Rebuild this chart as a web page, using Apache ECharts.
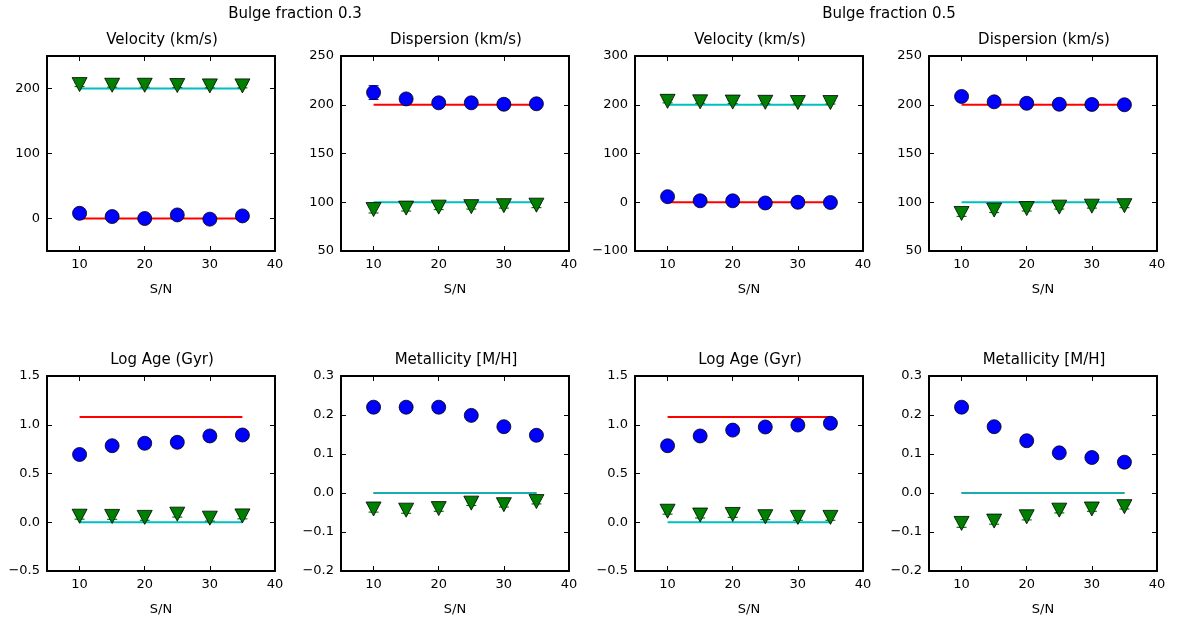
<!DOCTYPE html>
<html>
<head>
<meta charset="utf-8">
<script src="https://cdn.jsdelivr.net/npm/echarts@6/dist/echarts.min.js"></script>
<style>
  html, body { margin: 0; padding: 0; background: #fff; }
  #chart { width: 1178px; height: 620px; }
</style>
</head>
<body>
<div id="chart"></div>
<script>
// S/N values shared by every panel
const sn = [10, 15, 20, 25, 30, 35];
const xTicks = [10, 20, 30, 40];

const suptitles = ['Bulge fraction 0.3', 'Bulge fraction 0.5'];
const panelTitles = ['Velocity (km/s)', 'Dispersion (km/s)', 'Velocity (km/s)', 'Dispersion (km/s)',
  'Log Age (Gyr)', 'Metallicity [M/H]', 'Log Age (Gyr)', 'Metallicity [M/H]'];

// y ranges and tick values per panel
const yMin = [-50, 50, -100, 50, -0.5, -0.2, -0.5, -0.2];
const yMax = [250, 250, 300, 250, 1.5, 0.3, 1.5, 0.3];
const yTicks = [
  [0, 100, 200],
  [50, 100, 150, 200, 250],
  [-100, 0, 100, 200, 300],
  [50, 100, 150, 200, 250],
  [-0.5, 0, 0.5, 1, 1.5],
  [-0.2, -0.1, 0, 0.1, 0.2, 0.3],
  [-0.5, 0, 0.5, 1, 1.5],
  [-0.2, -0.1, 0, 0.1, 0.2, 0.3]
];
const yDecimals = [0, 0, 0, 0, 1, 1, 1, 1];

// blue circles (recovered component 1) and errors
const blueVel03 = [8, 3, 0, 5.5, -1, 4];
const blueDisp03 = [212.5, 206, 202, 202, 200.5, 201];
const blueVel05 = [11.5, 3, 3, -1.5, 0, -0.5];
const blueDisp05 = [208.5, 203, 201.5, 200.5, 200.3, 200];
const blueAge03 = [0.695, 0.785, 0.81, 0.82, 0.885, 0.895];
const blueMet03 = [0.22, 0.22, 0.22, 0.199, 0.17, 0.148];
const blueAge05 = [0.785, 0.885, 0.945, 0.977, 0.997, 1.015];
const blueMet05 = [0.22, 0.17, 0.134, 0.103, 0.091, 0.079];

const blueErrVel03 = [4, 2, 2, 2, 2, 2];
const blueErrDisp03 = [7, 3, 2, 2, 2, 2];
const blueErrVel05 = [3, 2, 2, 2, 2, 2];
const blueErrDisp05 = [3, 2, 2, 1.5, 1.5, 1.5];
const blueErrAge03 = [0.02, 0.02, 0.02, 0.02, 0.02, 0.02];
const blueErrMet03 = [0.005, 0.005, 0.005, 0.005, 0.005, 0.005];
const blueErrAge05 = [0.02, 0.02, 0.02, 0.02, 0.02, 0.02];
const blueErrMet05 = [0.005, 0.005, 0.005, 0.005, 0.005, 0.005];

// green triangles (recovered component 2) and errors
const greenVel03 = [206, 205, 205, 204.5, 204, 204];
const greenDisp03 = [92.5, 94, 95, 95.5, 96.5, 97];
const greenVel05 = [207, 206, 205.5, 205, 204.5, 204.5];
const greenDisp05 = [88.5, 92, 93.5, 95, 96, 96.5];
const greenAge03 = [0.062, 0.06, 0.05, 0.083, 0.042, 0.065];
const greenMet03 = [-0.041, -0.044, -0.04, -0.026, -0.03, -0.022];
const greenAge05 = [0.113, 0.074, 0.08, 0.057, 0.05, 0.05];
const greenMet05 = [-0.078, -0.072, -0.061, -0.044, -0.041, -0.035];

const greenErrVel03 = [3, 3, 3, 3, 3, 3];
const greenErrDisp03 = [3.5, 3, 2.5, 2.5, 2.5, 2.5];
const greenErrVel05 = [3, 3, 3, 3, 3, 3];
const greenErrDisp05 = [3, 2.5, 2.5, 2, 2, 2];
const greenErrAge03 = [0.03, 0.03, 0.03, 0.03, 0.03, 0.03];
const greenErrMet03 = [0.008, 0.008, 0.007, 0.006, 0.006, 0.006];
const greenErrAge05 = [0.03, 0.03, 0.03, 0.03, 0.03, 0.03];
const greenErrMet05 = [0.01, 0.008, 0.008, 0.007, 0.006, 0.006];

// true input values (horizontal lines)
const redTrue = [0, 200, 0, 200, 1.08, 0, 1.08, 0];
const cyanTrue = [200, 100, 200, 100, 0, 0, 0, 0];

const blueSets = [blueVel03, blueDisp03, blueVel05, blueDisp05, blueAge03, blueMet03, blueAge05, blueMet05];
const blueErrs = [blueErrVel03, blueErrDisp03, blueErrVel05, blueErrDisp05, blueErrAge03, blueErrMet03, blueErrAge05, blueErrMet05];
const greenSets = [greenVel03, greenDisp03, greenVel05, greenDisp05, greenAge03, greenMet03, greenAge05, greenMet05];
const greenErrs = [greenErrVel03, greenErrDisp03, greenErrVel05, greenErrDisp05, greenErrAge03, greenErrMet03, greenErrAge05, greenErrMet05];

const FONT = 'DejaVu Sans';
const lefts = [47, 341, 635, 929];
const tops = [56, 376];
const W = 228, H = 195;

function fmtNum(v, d) {
  return v.toFixed(d).replace('-', '\u2212');
}

function errorSeries(k, vals, errs, color) {
  return {
    type: 'custom',
    xAxisIndex: 2 * k,
    yAxisIndex: 2 * k,
    z: 3,
    silent: true,
    data: sn.map((x, i) => [x, vals[i] - errs[i], vals[i] + errs[i]]),
    renderItem: (params, api) => {
      const lo = api.coord([api.value(0), api.value(1)]);
      const hi = api.coord([api.value(0), api.value(2)]);
      const cw = 5;
      const style = { stroke: color, lineWidth: 1.2 };
      return {
        type: 'group',
        children: [
          { type: 'line', shape: { x1: lo[0], y1: lo[1], x2: hi[0], y2: hi[1] }, style },
          { type: 'line', shape: { x1: lo[0] - cw, y1: lo[1], x2: lo[0] + cw, y2: lo[1] }, style },
          { type: 'line', shape: { x1: hi[0] - cw, y1: hi[1], x2: hi[0] + cw, y2: hi[1] }, style }
        ]
      };
    }
  };
}

const grid = [], xAxis = [], yAxis = [], series = [];
const title = [
  { text: suptitles[0], left: 290, top: 2, textAlign: 'center',
    textStyle: { fontFamily: FONT, fontSize: 15, fontWeight: 'normal', color: '#000' } },
  { text: suptitles[1], left: 884, top: 2, textAlign: 'center',
    textStyle: { fontFamily: FONT, fontSize: 15, fontWeight: 'normal', color: '#000' } }
];

const axisLine = { show: true, onZero: false, lineStyle: { color: '#000', width: 2 } };
const tickStyle = { show: true, inside: true, length: 5, lineStyle: { color: '#000', width: 1 } };
const labelStyle = { fontFamily: FONT, fontSize: 13, color: '#000' };

for (let k = 0; k < 8; k++) {
  const row = Math.floor(k / 4), col = k % 4;
  const left = lefts[col], top = tops[row];
  grid.push({ left, top, width: W, height: H });
  title.push({
    text: panelTitles[k], left: left + W / 2 - 4, top: top - 28, textAlign: 'center',
    textStyle: { fontFamily: FONT, fontSize: 15, fontWeight: 'normal', color: '#000' }
  });

  // bottom and top x axes
  xAxis.push({
    type: 'value', gridIndex: k, min: 5, max: 40, position: 'bottom',
    name: 'S/N', nameLocation: 'middle', nameGap: 32,
    nameTextStyle: { fontFamily: FONT, fontSize: 13, color: '#000' },
    axisLine, splitLine: { show: false },
    axisTick: Object.assign({ customValues: xTicks }, tickStyle),
    axisLabel: Object.assign({ customValues: xTicks, margin: 7 }, labelStyle)
  });
  xAxis.push({
    type: 'value', gridIndex: k, min: 5, max: 40, position: 'top',
    axisLine, splitLine: { show: false },
    axisTick: Object.assign({ customValues: xTicks }, tickStyle),
    axisLabel: { show: false }
  });

  // left and right y axes
  const d = yDecimals[k];
  yAxis.push({
    type: 'value', gridIndex: k, min: yMin[k], max: yMax[k], position: 'left',
    axisLine, splitLine: { show: false },
    axisTick: Object.assign({ customValues: yTicks[k] }, tickStyle),
    axisLabel: Object.assign({ customValues: yTicks[k], margin: 7,
      formatter: v => fmtNum(v, d) }, labelStyle)
  });
  yAxis.push({
    type: 'value', gridIndex: k, min: yMin[k], max: yMax[k], position: 'right',
    axisLine, splitLine: { show: false },
    axisTick: Object.assign({ customValues: yTicks[k] }, tickStyle),
    axisLabel: { show: false }
  });

  const x0 = sn[0], x1 = sn[sn.length - 1];
  series.push({
    type: 'line', xAxisIndex: 2 * k, yAxisIndex: 2 * k, z: 2,
    data: [[x0, redTrue[k]], [x1, redTrue[k]]],
    symbol: 'none', silent: true,
    lineStyle: { color: '#ff0000', width: 2 }
  });
  series.push({
    type: 'line', xAxisIndex: 2 * k, yAxisIndex: 2 * k, z: 2,
    data: [[x0, cyanTrue[k]], [x1, cyanTrue[k]]],
    symbol: 'none', silent: true,
    lineStyle: { color: '#00bfbf', width: 2, opacity: redTrue[k] === cyanTrue[k] ? 0.9 : 1 }
  });
  series.push(errorSeries(k, blueSets[k], blueErrs[k], '#0000ff'));
  series.push(errorSeries(k, greenSets[k], greenErrs[k], '#008000'));
  series.push({
    type: 'scatter', xAxisIndex: 2 * k, yAxisIndex: 2 * k, z: 4,
    data: sn.map((x, i) => [x, blueSets[k][i]]),
    symbol: 'circle', symbolSize: 14, silent: true,
    itemStyle: { color: '#0000ff', borderColor: '#000', borderWidth: 0.8, opacity: 1 }
  });
  series.push({
    type: 'scatter', xAxisIndex: 2 * k, yAxisIndex: 2 * k, z: 4,
    data: sn.map((x, i) => [x, greenSets[k][i]]),
    symbol: 'triangle', symbolRotate: 180, symbolSize: [15, 14], silent: true,
    itemStyle: { color: '#008000', borderColor: '#000', borderWidth: 0.8, opacity: 1 }
  });
}

const chart = echarts.init(document.getElementById('chart'), null, { renderer: 'canvas' });
chart.setOption({
  animation: false,
  backgroundColor: '#fff',
  title, grid, xAxis, yAxis, series
});
</script>
</body>
</html>
